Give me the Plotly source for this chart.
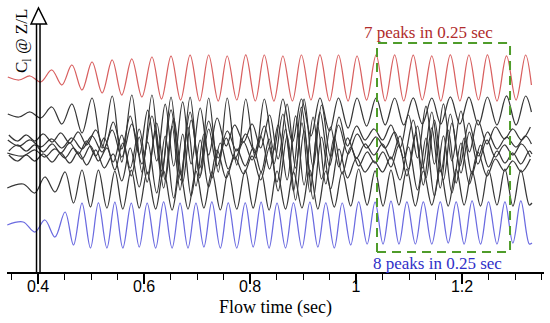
import plotly.graph_objects as go

# ---- time grids (sec) of the extrema ----
red_t = [0.343, 0.364, 0.385, 0.405, 0.426, 0.445, 0.464, 0.483, 0.502, 0.521,
         0.540, 0.558, 0.577, 0.596, 0.615, 0.633, 0.651, 0.669, 0.687, 0.705,
         0.722, 0.740, 0.757, 0.775, 0.792, 0.810, 0.827, 0.845, 0.862, 0.880,
         0.897, 0.915, 0.932, 0.950, 0.967, 0.985, 1.002, 1.020, 1.038, 1.055,
         1.073, 1.090, 1.108, 1.125, 1.143, 1.160, 1.178, 1.196, 1.213, 1.231,
         1.248, 1.266, 1.284, 1.302, 1.320, 1.331]
blue_t = [0.342, 0.372, 0.394, 0.413, 0.432, 0.451, 0.467, 0.483, 0.499, 0.514,
          0.530, 0.545, 0.560, 0.576, 0.591, 0.606, 0.622, 0.637, 0.653, 0.668,
          0.683, 0.698, 0.713, 0.728, 0.744, 0.759, 0.775, 0.791, 0.806, 0.821,
          0.836, 0.851, 0.867, 0.882, 0.898, 0.913, 0.928, 0.943, 0.959, 0.974,
          0.990, 1.005, 1.021, 1.036, 1.051, 1.066, 1.081, 1.096, 1.112, 1.127,
          1.143, 1.159, 1.174, 1.189, 1.204, 1.219, 1.235, 1.250, 1.266, 1.281,
          1.296, 1.311, 1.327, 1.332]
cl_t = [0.345, 0.361, 0.378, 0.394, 0.410, 0.427, 0.443, 0.460, 0.476, 0.492,
        0.509, 0.525, 0.542, 0.558, 0.574, 0.591, 0.607, 0.624, 0.640, 0.656,
        0.673, 0.689, 0.706, 0.722, 0.738, 0.755, 0.771, 0.788, 0.804, 0.820,
        0.837, 0.853, 0.870, 0.886, 0.902, 0.919, 0.935, 0.952, 0.968, 0.984,
        1.001, 1.017, 1.034, 1.050, 1.066, 1.083, 1.099, 1.116, 1.132, 1.148,
        1.165, 1.181, 1.198, 1.214, 1.230, 1.247, 1.263, 1.280, 1.296, 1.312,
        1.329]

# ---- C_l values (offset per Z/L station, arbitrary units) ----
red_v = [195, 192, 196, 190, 202, 187, 207, 182, 210, 179,
         212, 177, 213, 175, 215, 173, 216, 172, 217, 171,
         217, 171, 216, 172, 217, 171, 217, 171, 216, 171,
         217, 172, 217, 171, 217, 171, 216, 172, 217, 171,
         217, 171, 217, 172, 216, 171, 217, 171, 217, 172,
         217, 171, 216, 172, 217, 187]
b1_v = [158, 155, 160, 154, 165, 148, 168, 139, 174, 124,
        176, 110, 177, 100, 177, 94, 175, 92, 175, 94,
        174, 100, 174, 107, 173, 114, 173, 122, 173, 130,
        173, 136, 174, 141, 174, 144, 174, 146, 174, 147,
        174, 147, 174, 148, 174, 148, 175, 148, 175, 147,
        175, 147, 176, 147, 176, 160]
c2_v = [132, 126, 132, 125, 133, 124, 134, 123, 136, 120,
        142, 115, 148, 108, 156, 101, 162, 98, 160, 104,
        151, 114, 141, 121, 138, 119, 146, 108, 158, 97,
        165, 96, 160, 106, 147, 118, 138, 124, 135, 124,
        140, 114, 152, 104, 160, 100, 158, 106, 149, 116,
        140, 123, 135, 125, 136, 128]
blue_v = [47, 50, 40, 52, 35, 60, 27, 69, 24, 69,
          24, 70, 24, 69, 25, 69, 24, 70, 24, 69,
          24, 69, 25, 70, 24, 69, 24, 69, 25, 70,
          24, 69, 24, 69, 24, 70, 25, 69, 24, 69,
          27, 70, 28, 70, 28, 71, 28, 70, 28, 70,
          28, 70, 29, 70, 28, 71, 28, 70, 28, 70,
          29, 71, 28, 29]
b7_v = [84, 88, 79, 95, 80, 100, 69, 102, 65, 102,
        64, 101, 63, 102, 64, 100, 63, 101, 62, 100,
        63, 101, 64, 100, 62, 101, 63, 102, 64, 100,
        62, 101, 63, 100, 64, 102, 63, 101, 65, 100,
        66, 103, 67, 101, 66, 102, 67, 103, 66, 101,
        67, 102, 66, 103, 67, 101, 66, 102, 67, 103,
        66, 102, 67, 69]
c4_v = [119, 116, 122, 115, 123, 114, 124, 113, 126, 111,
        124, 102, 129, 96, 135, 90, 141, 84, 146, 82,
        145, 86, 138, 94, 129, 103, 123, 106, 124, 100,
        133, 90, 143, 81, 149, 80, 145, 88, 135, 98,
        125, 106, 120, 109, 120, 105, 127, 96, 137, 87,
        144, 84, 142, 89, 134, 98, 127, 105, 121, 109,
        119, 108, 121, 118]
c1_v = [137, 131, 137, 131, 138, 130, 139, 129, 140, 127,
        142, 124, 150, 123, 156, 117, 162, 111, 168, 106,
        170, 108, 164, 117, 154, 126, 147, 130, 148, 124,
        157, 113, 168, 104, 173, 105, 167, 115, 155, 126,
        146, 132, 143, 132, 147, 124, 157, 114, 166, 108,
        168, 111, 161, 120, 152, 128, 145, 133, 143, 132,
        145]
c3_v = [121, 127, 121, 127, 120, 128, 119, 129, 118, 131,
        116, 134, 110, 137, 104, 143, 98, 149, 92, 154,
        90, 152, 96, 143, 106, 134, 113, 130, 112, 136,
        103, 147, 92, 156, 87, 155, 93, 145, 105, 134,
        114, 128, 117, 128, 113, 136, 103, 146, 94, 152,
        92, 149, 99, 140, 108, 132, 115, 127, 117, 128,
        115]
c5_v = [117, 111, 117, 111, 118, 110, 119, 109, 120, 107,
        122, 104, 118, 91, 124, 85, 130, 79, 136, 74,
        138, 76, 132, 85, 122, 94, 115, 98, 116, 92,
        125, 81, 136, 72, 141, 73, 135, 83, 123, 94,
        114, 100, 111, 100, 115, 92, 125, 82, 134, 76,
        136, 79, 129, 88, 120, 96, 113, 101, 111, 100,
        113]

tick_vals = [0.4, 0.6, 0.8, 1.0, 1.2]
tick_text = ["0.4", "0.6", "0.8", "1", "1.2"]
box_t = [1.0396, 1.2906]
box_v = [20, 229]

for t, v in [(red_t, red_v), (red_t, b1_v), (red_t, c2_v), (blue_t, blue_v),
             (blue_t, b7_v), (blue_t, c4_v), (cl_t, c1_v), (cl_t, c3_v), (cl_t, c5_v)]:
    assert len(t) == len(v), (len(t), len(v))

fig = go.Figure()
BLACK = "#363636"
for t, v in [(red_t, b1_v), (red_t, c2_v), (cl_t, c1_v), (cl_t, c3_v),
             (blue_t, c4_v), (cl_t, c5_v), (blue_t, b7_v)]:
    fig.add_trace(go.Scatter(x=t, y=v, mode="lines",
                             line=dict(color=BLACK, width=1.25, shape="spline", smoothing=1),
                             hoverinfo="skip", showlegend=False))
fig.add_trace(go.Scatter(x=red_t, y=red_v, mode="lines",
                         line=dict(color="#d85f5f", width=1.25, shape="spline", smoothing=1),
                         hoverinfo="skip", showlegend=False))
fig.add_trace(go.Scatter(x=blue_t, y=blue_v, mode="lines",
                         line=dict(color="#6a6ae0", width=1.25, shape="spline", smoothing=1),
                         hoverinfo="skip", showlegend=False))

shapes = [
    dict(type="rect", xref="x", yref="y", x0=box_t[0], x1=box_t[1], y0=box_v[0], y1=box_v[1],
         line=dict(color="#4f9c2a", width=2, dash="9px,6px"), fillcolor="rgba(0,0,0,0)"),
    dict(type="line", xref="x", yref="y", x0=0.3972, x1=0.3972, y0=0, y1=248,
         line=dict(color="black", width=1.5)),
    dict(type="line", xref="x", yref="y", x0=0.4038, x1=0.4038, y0=0, y1=248,
         line=dict(color="black", width=1.5)),
    dict(type="path", xref="x", yref="y",
         path="M 0.3868 248 L 0.4009 264 L 0.4160 248 Z",
         line=dict(color="black", width=1.5), fillcolor="white"),
]

annotations = [
    dict(xref="x", yref="y", x=1.1377, y=240, text="7 peaks in 0.25 sec", showarrow=False,
         font=dict(family="Liberation Serif", size=17, color="#b02c2c"),
         xanchor="center", yanchor="middle"),
    dict(xref="x", yref="y", x=1.1538, y=9, text="8 peaks in 0.25 sec", showarrow=False,
         font=dict(family="Liberation Serif", size=17, color="#3030c8"),
         xanchor="center", yanchor="middle"),
    dict(xref="x", yref="y", x=0.3717, y=231, text="C<sub>l</sub> @ Z/L", showarrow=False,
         textangle=-90, font=dict(family="Liberation Serif", size=17, color="black"),
         xanchor="center", yanchor="middle"),
    dict(xref="paper", yref="paper", x=0.5, y=-0.132, text="Flow time (sec)", showarrow=False,
         font=dict(family="Liberation Serif", size=18, color="black"),
         xanchor="center", yanchor="middle"),
]

fig.update_layout(
    width=550, height=323, autosize=False,
    margin=dict(l=7, r=6, t=0, b=51),
    paper_bgcolor="white", plot_bgcolor="white",
    showlegend=False,
    shapes=shapes, annotations=annotations,
    xaxis=dict(range=[0.3415, 1.3547], showline=True, linecolor="black", linewidth=2,
               ticks="outside", ticklen=10, tickwidth=1.5, tickcolor="black",
               tickvals=tick_vals, ticktext=tick_text,
               tickfont=dict(family="Liberation Sans", size=16, color="black"),
               ticklabelstandoff=-11,
               showgrid=False, zeroline=False,
               minor=dict(dtick=0.05, tick0=0, ticks="outside", ticklen=6, tickwidth=1,
                          tickcolor="black", showgrid=False)),
    yaxis=dict(range=[0, 272], visible=False),
)

fig.write_html("out.html", config={"displayModeBar": False},
               post_script="document.body.style.margin='0px';document.body.style.padding='0px';")
